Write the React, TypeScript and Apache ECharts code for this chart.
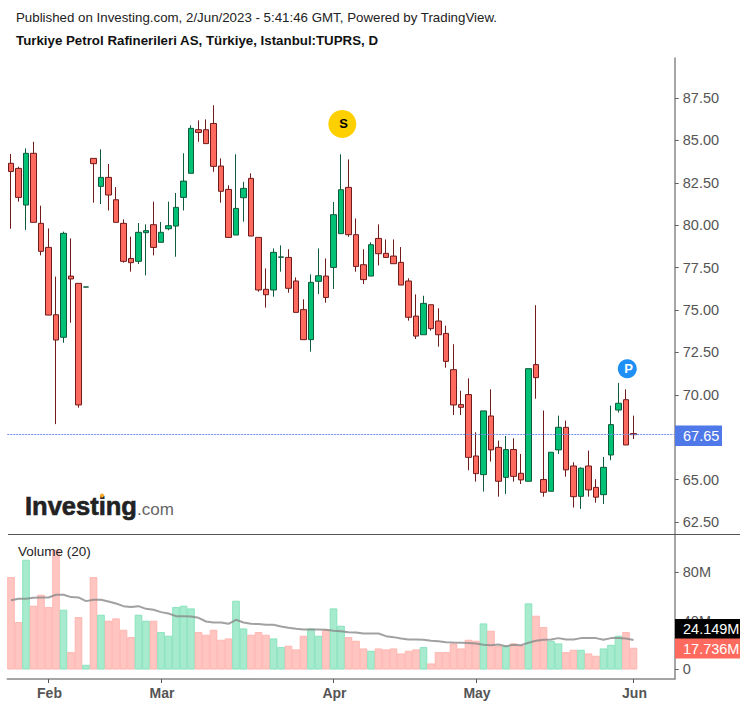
import React, { useEffect, useRef } from "react";
import * as echarts from "echarts";

const opens = [83.65,83.35,81.19,84.24,80.11,78.69,74.72,73.39,77.0,76.57,76.35,83.94,82.29,82.82,81.5,80.11,78.04,77.87,79.56,80.03,78.99,79.79,79.95,81.64,83.06,85.63,85.63,86.0,83.49,82.11,79.42,81.62,82.76,79.28,76.22,76.18,78.11,78.1,76.71,75.02,73.25,76.69,77.0,77.51,79.5,82.23,79.44,77.67,77.0,79.22,78.34,78.18,77.81,76.71,74.64,73.54,75.31,74.35,73.62,71.48,69.42,70.01,66.39,65.29,68.75,66.9,65.13,66.77,65.37,64.9,71.78,65.0,64.31,66.75,68.08,65.8,64.01,65.8,64.54,64.11,66.45,69.1,69.71,67.71];
const closes = [83.17,81.64,84.24,80.17,78.46,74.7,73.23,79.52,76.83,69.4,76.36,83.63,82.82,81.78,80.17,77.87,77.79,79.58,79.68,78.69,79.58,79.97,81.05,82.6,85.71,85.47,84.81,83.47,82.0,79.28,80.99,82.17,79.36,76.18,75.9,78.4,78.13,76.28,74.86,73.25,76.63,77.02,75.74,80.62,82.09,79.44,77.57,76.79,78.85,78.32,78.1,77.73,76.47,74.57,73.46,75.39,73.9,73.54,71.97,69.4,69.26,66.31,65.35,69.05,66.75,64.9,66.77,65.19,64.98,71.54,71.01,64.25,66.61,68.08,65.57,63.99,65.67,64.39,63.96,65.72,68.24,69.5,67.04,67.65];
const highs = [84.2,83.45,84.53,84.92,81.15,79.81,76.97,79.62,79.22,76.57,76.36,83.94,84.47,83.61,82.25,80.34,79.32,80.13,80.05,81.39,80.19,81.39,81.9,84.24,85.89,86.18,86.24,87.07,83.94,82.35,84.18,82.56,83.06,79.28,77.45,78.63,78.81,78.58,76.92,75.63,77.1,78.63,78.04,81.37,84.18,83.88,80.4,78.58,78.99,80.05,79.16,79.16,78.71,76.87,75.92,75.84,75.31,75.1,74.07,72.98,70.24,70.97,67.79,69.05,70.32,67.3,67.57,67.43,66.51,71.54,75.28,69.07,66.61,68.77,68.48,66.02,65.72,66.71,65.02,66.33,69.36,70.7,70.32,68.77];
const lows = [79.79,81.39,79.72,80.17,78.22,74.7,68.27,73.07,74.25,69.24,76.34,81.33,81.25,80.87,80.17,77.79,77.26,77.71,77.04,78.22,78.99,79.7,78.14,80.87,83.06,84.92,84.81,83.15,81.33,79.28,79.42,80.21,79.36,76.08,75.14,75.78,77.26,76.02,74.86,73.25,72.54,75.94,75.43,76.24,79.5,79.32,77.26,76.53,77.0,77.63,78.1,77.73,76.47,74.37,73.29,73.54,73.78,72.84,71.6,68.81,68.81,65.55,64.88,64.29,66.06,63.99,64.15,64.88,64.74,64.9,69.77,63.99,64.31,66.51,65.17,63.35,63.27,63.99,63.64,63.56,66.14,68.95,67.04,67.39];

const volumes = [75.7,38.8,89.9,52.2,61.2,51.1,98.1,48.9,14.2,42.9,3.8,75.7,44.8,39.9,41.8,32.5,26.5,44.8,39.9,39.9,30.6,27.6,51.1,52.2,50,30.6,28.4,32.5,24.3,25.4,56.3,33.6,28.4,30.6,28.4,25.4,18.3,19.4,16.4,27.6,33.6,27.6,32.5,50,35.8,26.5,23.5,17.2,15.3,17.2,16.4,17.2,13.1,15.3,16.4,18.3,4.9,14.2,14.2,21.3,17.2,24.3,23.5,37.7,31.7,19.1,19.1,21.3,19.4,54.1,44,34.7,23.5,21.3,14.2,16.1,16.1,13.1,11.2,17.2,20.2,27.6,30.6,17.736];
const volumeMA = [56.8,57.9,57.9,58.7,59,59,61.2,61.2,59.3,59,56,57.1,57.1,55.7,54.1,51.9,51.1,51.9,49.7,48.9,47,45.9,43.7,43.7,43.4,42.3,39.3,38.5,38.5,37.4,40.7,38.5,37.4,37.2,36.6,36.6,35.2,34.2,33.3,32.8,32.8,32.8,32.5,31.7,31.4,30.6,30.3,29.5,29.5,29.5,27.3,26.5,25.4,24.6,24.6,24.3,23.5,23.2,22.4,22.1,21.9,21.6,21.3,20.2,19.9,20.5,19.1,20.2,19.9,21.9,23.5,24.3,24.6,25.7,24.6,24.6,25.7,25.7,25.7,24.3,25.7,25.7,25.4,24.149];

const monthTicks: Record<number, string> = { 5: "Feb", 20: "Mar", 43: "Apr", 62: "May", 83: "Jun" };
const priceTicks = [62.5, 65, 67.5, 70, 72.5, 75, 77.5, 80, 82.5, 85, 87.5];
const volumeTicks = [0, 40, 80];
const lastPrice = 67.65;
const signals = [
  { name: "S", index: 44, price: 85.97, color: "#ffd000", text: "#000", size: 28, font: 13 },
  { name: "P", index: 82, price: 71.54, color: "#1e90f5", text: "#fff", size: 19, font: 13 },
];
const categories = Array.from({ length: 89 }, (_, i) => String(i));

const FONT = "'Liberation Sans', Arial, sans-serif";
const UP = "#00c176", DOWN = "#ff6a5e", UP_B = "#0d5b3a", DOWN_B = "#701a1a";
const AXIS = "#888";

export default function App() {
  const ref = useRef<HTMLDivElement>(null);
  useEffect(() => {
    const chart = echarts.init(ref.current!, undefined, { renderer: "svg" });
    const left = 7.25, width = 667.5;
    const isMonth = (i: number) => monthTicks[i] !== undefined;
    const label = (text: string, top: number, bg: string) => [
      { type: "rect", z: 100, shape: { x: 675, y: top, width: 65, height: 20 }, style: { fill: bg } },
      { type: "text", z: 101, x: 683, y: top + 10, style: { text, fill: "#fff", font: `14.5px ${FONT}`, textVerticalAlign: "middle" } },
    ];
    chart.setOption({
      animation: false,
      textStyle: { fontFamily: FONT },
      grid: [
        { left, width, top: 58, height: 476 },
        { left, width, top: 534.5, height: 144.5 },
      ],
      xAxis: [
        { type: "category", gridIndex: 0, data: categories, axisLine: { show: false }, axisTick: { show: false }, axisLabel: { show: false }, splitLine: { show: false } },
        {
          type: "category", gridIndex: 1, data: categories,
          axisLine: { onZero: false, lineStyle: { color: AXIS, width: 1.5 } },
          axisTick: { show: true, length: 4, alignWithLabel: true, interval: (i: number) => isMonth(i), lineStyle: { color: "#555", width: 1 } },
          axisLabel: { interval: (i: number) => isMonth(i), formatter: (_: string, i: number) => monthTicks[i] ?? "", color: "#555", fontWeight: "bold", fontSize: 14, margin: 7, padding: [0, 0, 0, 2], fontFamily: FONT },
          splitLine: { show: false },
        },
      ],
      yAxis: [
        {
          type: "value", gridIndex: 0, position: "right", min: 61.79, max: 89.86,
          axisLine: { show: true, lineStyle: { color: AXIS, width: 1.5 } },
          axisTick: { show: true, length: 4, customValues: priceTicks, lineStyle: { color: "#666" } },
          axisLabel: { customValues: priceTicks, formatter: (v: number) => v.toFixed(2), color: "#555", fontSize: 14.5, margin: 8, fontFamily: FONT },
          splitLine: { show: false },
        },
        {
          type: "value", gridIndex: 1, position: "right", min: -7.8, max: 110.6,
          axisLine: { show: true, lineStyle: { color: AXIS, width: 1.5 } },
          axisTick: { show: true, length: 4, customValues: volumeTicks, lineStyle: { color: "#666" } },
          axisLabel: { customValues: volumeTicks, formatter: (v: number) => (v === 0 ? "0" : `${v}M`), color: "#555", fontSize: 14.5, margin: 8, fontFamily: FONT },
          splitLine: { show: false },
        },
      ],
      series: [
        {
          type: "candlestick", xAxisIndex: 0, yAxisIndex: 0, barWidth: 6,
          data: opens.map((o, i) => [o, closes[i], lows[i], highs[i]]),
          itemStyle: { color: UP, color0: DOWN, borderColor: UP_B, borderColor0: DOWN_B, borderWidth: 1 },
          markLine: {
            silent: true, symbol: "none", label: { show: false },
            lineStyle: { color: "#6f8ff2", type: [2, 1], width: 1 },
            data: [{ yAxis: lastPrice }],
          },
        },
        {
          type: "scatter", xAxisIndex: 0, yAxisIndex: 0, silent: true, z: 5,
          data: signals.map((s) => ({
            value: [s.index, s.price], symbolSize: s.size, symbolOffset: [1.3, 0],
            itemStyle: { color: s.color, opacity: 1 },
            label: { show: true, position: "inside", offset: [1.3, 0], formatter: s.name, color: s.text, fontWeight: "bold", fontSize: s.font, fontFamily: FONT },
          })),
        },
        {
          type: "bar", xAxisIndex: 1, yAxisIndex: 1, barWidth: 7.5,
          data: volumes.map((v, i) => {
            const up = closes[i] > opens[i];
            return { value: v, itemStyle: { color: up ? "#a6ebce" : "#ffc5c1", borderColor: up ? "#7ce0b6" : "#ffaeaa", borderWidth: 0.8 } };
          }),
        },
        {
          type: "line", xAxisIndex: 1, yAxisIndex: 1, data: volumeMA, showSymbol: false, smooth: false, z: 5,
          lineStyle: { color: "#8a8a8a", width: 2, opacity: 0.8 },
        },
      ],
      graphic: [
        { type: "text", x: 16, y: 17, style: { text: "Published on Investing.com, 2/Jun/2023 - 5:41:46 GMT, Powered by TradingView.", fill: "#222", font: `13.3px ${FONT}`, textVerticalAlign: "middle" } },
        { type: "text", x: 16, y: 40, style: { text: "Turkiye Petrol Rafinerileri AS, Türkiye, Istanbul:TUPRS, D", fill: "#111", font: `bold 13.3px ${FONT}`, textVerticalAlign: "middle" } },
        { type: "text", x: 18, y: 551, z: 50, style: { text: "Volume (20)", fill: "#222", font: `13.5px ${FONT}`, textVerticalAlign: "middle" } },
        { type: "text", x: 25, y: 506, style: { text: "Investing", fill: "#222", stroke: "#222", lineWidth: 0.6, font: `bold 25.5px ${FONT}`, textVerticalAlign: "middle" } },
        { type: "text", x: 137, y: 509, style: { text: ".com", fill: "#666", font: `17px ${FONT}`, textVerticalAlign: "middle" } },
        { type: "circle", z: 60, shape: { cx: 102, cy: 495.5, r: 2 }, style: { fill: "#f5a623" } },
        { type: "line", z: 60, shape: { x1: 8, y1: 534.5, x2: 740, y2: 534.5 }, style: { stroke: "#555", lineWidth: 1 } },
        { type: "rect", z: 100, shape: { x: 675, y: 425.5, width: 47, height: 20.5 }, style: { fill: "#4f78e8" } },
        { type: "text", z: 101, x: 683, y: 436, style: { text: lastPrice.toFixed(2), fill: "#fff", font: `14.5px ${FONT}`, textVerticalAlign: "middle" } },
        ...label("24.149M", 619, "#000"),
        ...label("17.736M", 638.5, "#ff6a5e"),
      ],
    });
    return () => chart.dispose();
  }, []);
  return <div ref={ref} style={{ width: 746, height: 707, position: "absolute", left: 0, top: 0 }} />;
}
